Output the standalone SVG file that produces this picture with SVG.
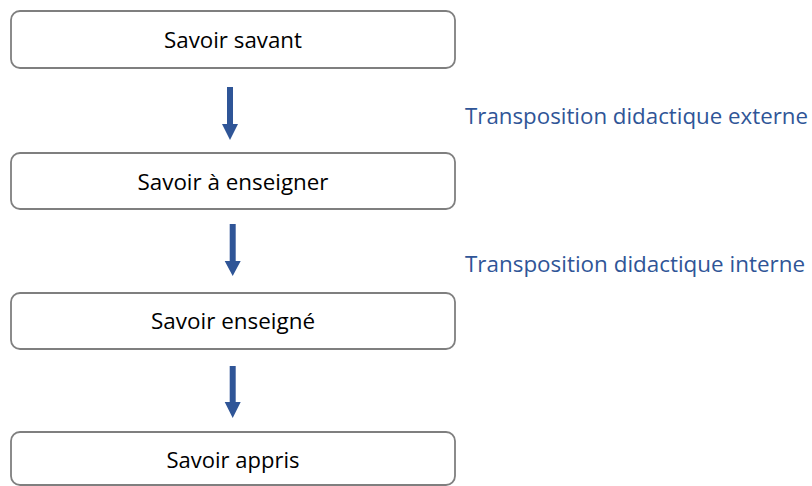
<svg xmlns="http://www.w3.org/2000/svg" width="812" height="486" viewBox="0 0 812 486">
<style>
.box{fill:#ffffff;stroke:#7f7f7f;stroke-width:1.8}
.lbl{font-family:"Open Sans","Liberation Sans",sans-serif;font-size:21px;fill:#000000;text-anchor:middle}
.side{font-family:"Open Sans","Liberation Sans",sans-serif;font-size:21px;fill:#2f5597}
.arr{fill:#2f5597}
</style>
<rect width="812" height="486" fill="#ffffff"/>
<g id="node-savant">
<rect class="box" x="11" y="11" width="444" height="57" rx="9"/>
<text class="lbl" x="233" y="48" textLength="138" lengthAdjust="spacingAndGlyphs">Savoir savant</text>
</g>
<g id="node-a-enseigner">
<rect class="box" x="11" y="153" width="444" height="56" rx="9"/>
<text class="lbl" x="233" y="190" textLength="191" lengthAdjust="spacingAndGlyphs">Savoir à enseigner</text>
</g>
<g id="node-enseigne">
<rect class="box" x="11" y="293" width="444" height="56" rx="9"/>
<text class="lbl" x="233" y="329" textLength="164" lengthAdjust="spacingAndGlyphs">Savoir enseigné</text>
</g>
<g id="node-appris">
<rect class="box" x="11" y="432" width="444" height="53" rx="9"/>
<text class="lbl" x="233" y="468" textLength="133" lengthAdjust="spacingAndGlyphs">Savoir appris</text>
</g>
<g id="connectors">
<polygon class="arr" points="227,87 233,87 233,124 238,124 230,140 222,124 227,124"/>
<polygon class="arr" points="229.7,224 235.7,224 235.7,261 240.7,261 232.7,276 224.7,261 229.7,261"/>
<polygon class="arr" points="229.7,366 235.7,366 235.7,402 240.7,402 232.7,418 224.7,402 229.7,402"/>
</g>
<g id="label-externe">
<text class="side" x="465" y="124" textLength="343" lengthAdjust="spacingAndGlyphs">Transposition didactique externe</text>
</g>
<g id="label-interne">
<text class="side" x="465" y="272" textLength="340" lengthAdjust="spacingAndGlyphs">Transposition didactique interne</text>
</g>
</svg>
